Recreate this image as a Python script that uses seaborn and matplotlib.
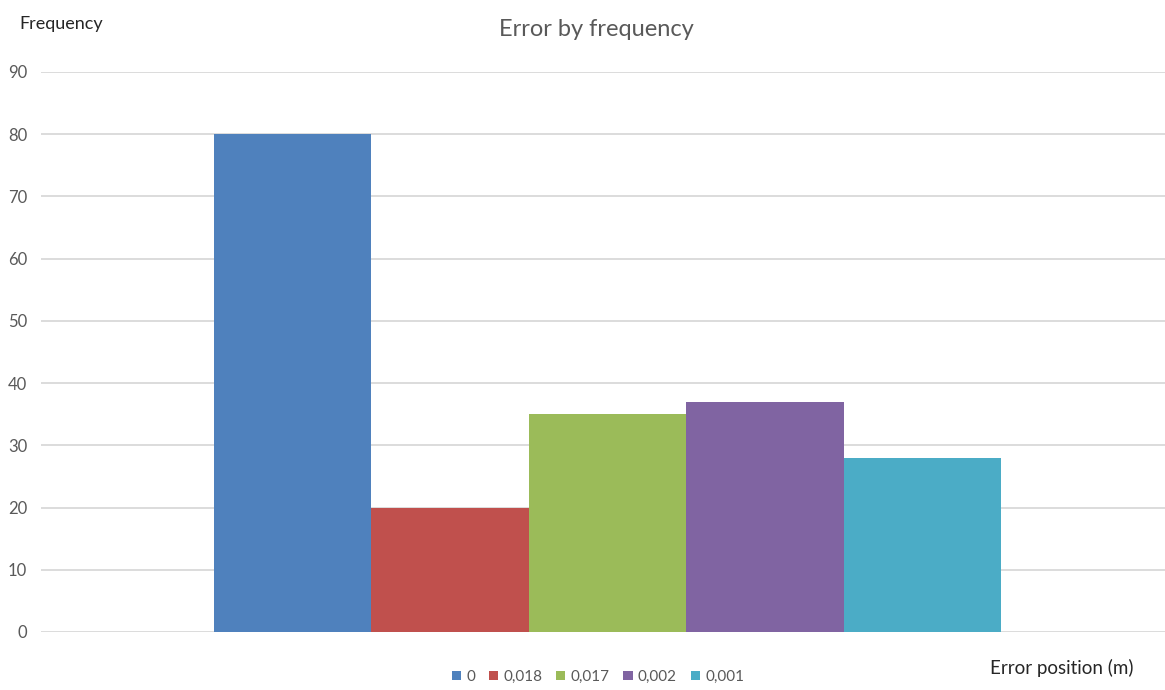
import matplotlib
matplotlib.use("Agg")
import matplotlib.pyplot as plt
from matplotlib.patches import Patch
import pandas as pd
import seaborn as sns

# Error position values (series) and how often each occurred
series = ["0", "0,018", "0,017", "0,002", "0,001"]
frequency = [80, 20, 35, 37, 28]
colors = ["#4F81BD", "#C0504D", "#9BBB59", "#8064A2", "#4BACC6"]
y_ticks = [0, 10, 20, 30, 40, 50, 60, 70, 80, 90]

sns.set_theme(style="white")
plt.rcParams["font.family"] = ["Lato", "DejaVu Sans"]

W, H = 1165, 690
fig = plt.figure(figsize=(W / 100, H / 100), dpi=100)
ax = fig.add_axes([41 / W, 58 / H, 1124 / W, 560 / H])

df = pd.DataFrame({"series": series, "frequency": frequency})
sns.barplot(data=df, x="series", y="frequency", hue="series", order=series,
            hue_order=series, palette=colors, width=1.0, saturation=1,
            legend=False, ax=ax, linewidth=0)

bar_px = 157.4
ax.set_xlim(-0.5 - 173 / bar_px, 4.5 + 164 / bar_px)
ax.set_ylim(0, 90)
ax.set_yticks(y_ticks)
ax.set_yticklabels([str(t) for t in y_ticks])
ax.set_xticks([])
ax.set_xlabel("")
ax.set_ylabel("")
ax.yaxis.grid(True, color="#d9d9d9", linewidth=1.3)
ax.set_axisbelow(True)
for s in ax.spines.values():
    s.set_visible(False)
ax.tick_params(axis="y", length=0, pad=10, labelsize=12, labelcolor="#595959")

fig.text(596 / W, 1 - 29 / H, "Error by frequency", ha="center", va="center",
         fontsize=17, color="#595959")
fig.text(19 / W, 1 - 24 / H, "Frequency", ha="left", va="center",
         fontsize=13, color="#262626")
fig.text(1133 / W, 1 - 668 / H, "Error position (m)", ha="right", va="center",
         fontsize=13.5, color="#262626")

handles = [Patch(facecolor=c, edgecolor="none", label=s) for s, c in zip(series, colors)]
fig.legend(handles=handles, loc="center", bbox_to_anchor=(598 / W, 1 - 677 / H),
           ncol=5, frameon=False, fontsize=11, handlelength=0.6, handleheight=0.6,
           handletextpad=0.35, columnspacing=0.9, labelcolor="#595959")

fig.savefig("out.png", dpi=100)
